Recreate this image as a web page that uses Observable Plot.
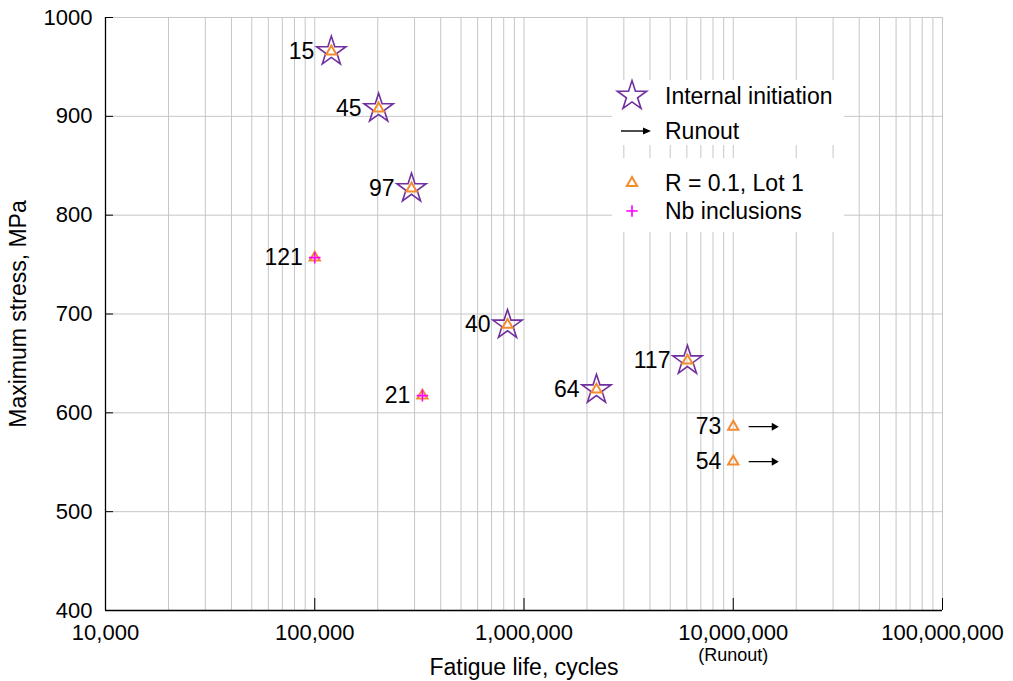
<!DOCTYPE html>
<html><head><meta charset="utf-8">
<script src="https://cdn.jsdelivr.net/npm/d3@7"></script>
<script src="https://cdn.jsdelivr.net/npm/@observablehq/plot@0.6"></script>
<style>
body{margin:0;background:#fff;font-family:"Liberation Sans",Arial,sans-serif;}
#wrap{position:relative;width:1013px;height:681px;overflow:hidden;}
#legend{position:absolute;left:0;top:0;}
</style></head><body><div id="wrap"></div>
<script>
// ---- data ----
const specimen = ["15", "45", "97", "121", "21", "40", "64", "117", "73", "54"];
const cycles = [120000, 202000, 290000, 100000, 327000, 834000, 2220000, 6040000, 10000000, 10000000];
const stress = [965.6, 907.9, 827, 757, 617.4, 689, 623.5, 652.8, 586, 550.6];
const internalInitiation = [true, true, true, false, false, true, true, true, false, false];
const nbInclusions = [false, false, false, true, true, false, false, false, false, false];
const isRunout = [false, false, false, false, false, false, false, false, true, true];
const xTicks = [1e4, 1e5, 1e6, 1e7, 1e8];
const yTicks = [400, 500, 600, 700, 800, 900, 1000];
const legendLabels = ["Internal initiation", "Runout", "R = 0.1, Lot 1", "Nb inclusions"];

const colStar = "#7030A0", colTri = "#F28C30", colPlus = "#FF00FF", colGrid = "#c6c6c6";

const data = specimen.map((s, i) => ({
  id: s, cycles: cycles[i], stress: stress[i],
  internal: internalInitiation[i], nb: nbInclusions[i], runout: isRunout[i]
}));
const runouts = data.filter(d => d.runout);
const minorTicks = d3.range(4, 8).flatMap(e => d3.range(1, 10).map(m => m * 10 ** e)).concat([1e8]);
const fmt = d3.format(",");
const arrowFactor = 1.62;

const starR = 9.2, triR = 3.8, plusR = 3.8;

const chart = Plot.plot({
  width: 1013, height: 681,
  marginLeft: 105, marginRight: 71, marginTop: 17, marginBottom: 71,
  style: {fontFamily: "Liberation Sans, Arial, sans-serif", fontSize: "22px", color: "#000", background: "#fff"},
  x: {type: "log", domain: [1e4, 1e8]},
  y: {domain: [400, 1000]},
  marks: [
    Plot.gridX(minorTicks, {stroke: colGrid, strokeOpacity: 1}),
    Plot.gridY(yTicks, {stroke: colGrid, strokeOpacity: 1}),
    Plot.axisX(xTicks, {tickSize: -12, fill: "none", label: null}),
    Plot.axisY(yTicks, {tickSize: -8, fill: "none", label: null}),
    Plot.axisX(xTicks, {tickSize: 0, tickPadding: 14, tickFormat: fmt, fontSize: 22,
      label: "Fatigue life, cycles", labelAnchor: "center", labelArrow: "none", labelOffset: 64, fontSize: 22}),
    Plot.axisY(yTicks, {tickSize: 0, tickPadding: 13, tickFormat: d => String(d), fontSize: 22,
      label: "Maximum stress, MPa", labelAnchor: "center", labelArrow: "none", labelOffset: 96}),
    Plot.text([1e7], {x: d => d, frameAnchor: "bottom", dy: 45, text: () => "(Runout)", fontSize: 18, lineAnchor: "middle"}),
    Plot.ruleX([1e4], {stroke: "#000", strokeWidth: 1.3}),
    Plot.ruleY([400], {stroke: "#000", strokeWidth: 1.3}),
    Plot.arrow(runouts, {
      x1: "cycles", y1: "stress", x2: d => d.cycles * arrowFactor, y2: "stress",
      insetStart: 16, insetEnd: 4, headLength: 0, stroke: "#000", strokeWidth: 1.4
    }),
    Plot.dot(runouts, {x: d => d.cycles * arrowFactor, y: "stress", symbol: "triangle", rotate: 90, r: 3, dx: -3, fill: "#000"}),
    Plot.dot(data.filter(d => d.internal), {x: "cycles", y: "stress", symbol: "star", r: starR, stroke: colStar, strokeWidth: 1.6, fill: "none"}),
    Plot.dot(data, {x: "cycles", y: "stress", symbol: "triangle", r: triR, stroke: colTri, strokeWidth: 2, fill: "none"}),
    Plot.dot(data.filter(d => d.nb), {x: "cycles", y: "stress", symbol: "plus", r: plusR, stroke: colPlus, strokeWidth: 1.6}),
    Plot.text(data.filter(d => d.internal), {x: "cycles", y: "stress", text: "id", textAnchor: "end", dx: -17, fontSize: 23}),
    Plot.text(data.filter(d => !d.internal), {x: "cycles", y: "stress", text: "id", textAnchor: "end", dx: -12, fontSize: 23})
  ]
});
const wrap = document.getElementById("wrap");
wrap.appendChild(chart);
// axis titles a bit larger
d3.select(chart).selectAll("[aria-label='x-axis label'] text, [aria-label='y-axis label'] text").attr("font-size", 23);

// ---- legend overlay ----
const leg = d3.select(wrap).append("svg").attr("id", "legend").attr("width", 1013).attr("height", 681)
  .style("font-family", "Liberation Sans, Arial, sans-serif");
leg.append("rect").attr("x", 612).attr("y", 80).attr("width", 232).attr("height", 65).attr("fill", "#fff");
leg.append("rect").attr("x", 612).attr("y", 158).attr("width", 232).attr("height", 74).attr("fill", "#fff");
const sym = (type, r) => d3.symbol(type, Math.PI * r * r)();
leg.append("path").attr("d", sym(d3.symbolStar, starR)).attr("transform", "translate(632,96)")
  .attr("fill", "none").attr("stroke", colStar).attr("stroke-width", 1.6);
leg.append("line").attr("x1", 621).attr("x2", 647).attr("y1", 131).attr("y2", 131).attr("stroke", "#000").attr("stroke-width", 1.4);
leg.append("path").attr("d", "M643,127.5 L651,131 L643,134.5 Z").attr("fill", "#000");
leg.append("path").attr("d", sym(d3.symbolTriangle, triR)).attr("transform", "translate(632,183)")
  .attr("fill", "none").attr("stroke", colTri).attr("stroke-width", 2);
leg.append("path").attr("d", sym(d3.symbolPlus, plusR)).attr("transform", "translate(632,211)")
  .attr("fill", "none").attr("stroke", colPlus).attr("stroke-width", 1.6);
const ly = [96, 131, 183, 211];
legendLabels.forEach((t, i) => {
  leg.append("text").attr("x", 665).attr("y", ly[i]).attr("dy", "0.35em").attr("font-size", 23).text(t);
});
</script></body></html>
